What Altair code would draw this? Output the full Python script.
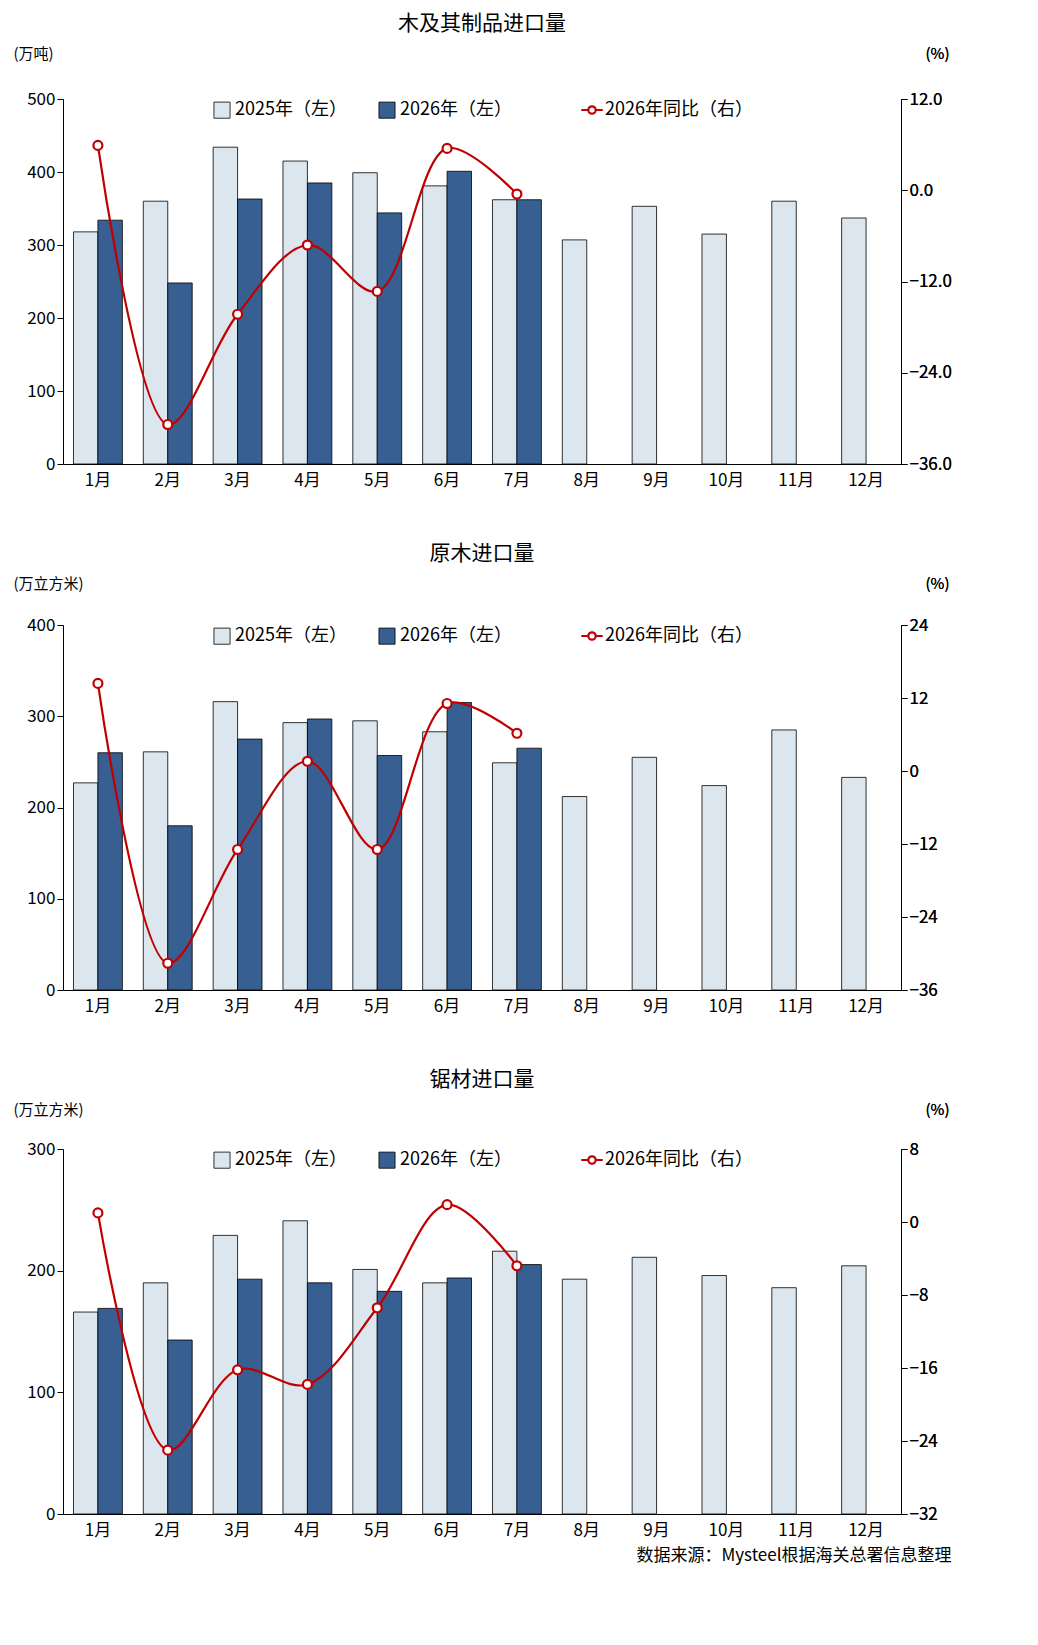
import pandas as pd
import altair as alt

months = ["1月", "2月", "3月", "4月", "5月", "6月", "7月", "8月", "9月", "10月", "11月", "12月"]
lbl_25 = "2025年（左）"
lbl_26 = "2026年（左）"
lbl_yoy = "2026年同比（右）"

# 木及其制品进口量 (万吨, %)
wood_25 = [318, 360, 434, 415, 399, 381, 362, 307, 353, 315, 360, 337]
wood_26 = [334, 248, 363, 385, 344, 401, 362]
wood_yoy = [5.9, -30.8, -16.3, -7.2, -13.3, 5.5, -0.5]

# 原木进口量 (万立方米, %)
log_25 = [227, 261, 316, 293, 295, 283, 249, 212, 255, 224, 285, 233]
log_26 = [260, 180, 275, 297, 257, 315, 265]
log_yoy = [14.4, -31.6, -12.9, 1.6, -12.9, 11.1, 6.2]

# 锯材进口量 (万立方米, %)
lumber_25 = [166, 190, 229, 241, 201, 190, 216, 193, 211, 196, 186, 204]
lumber_26 = [169, 143, 193, 190, 183, 194, 205]
lumber_yoy = [1.0, -25.0, -16.2, -17.8, -9.4, 1.9, -4.8]

FONT = "Noto Sans CJK SC"
LIGHT = "#dce6ee"
DARK = "#375f91"
RED = "#c00000"
line_symbol = ("M-1.6,0L-0.55,0 M0.55,0L1.6,0 "
               "M-0.55,0A0.55,0.55 0 1,0 0.55,0A0.55,0.55 0 1,0 -0.55,0Z")


def panel(title, unit, v25, v26, yoy, lmax, lstep, rmin, rmax, rstep, rfmt, unit_y):
    bars = pd.DataFrame(
        [{"month": m, "series": lbl_25, "value": v} for m, v in zip(months, v25)]
        + [{"month": m, "series": lbl_26, "value": v} for m, v in zip(months, v26)]
    )
    line = pd.DataFrame({"month": months[:len(yoy)], "yoy": yoy, "s": lbl_yoy})

    x = alt.X("month:N", sort=months, title=None,
              scale=alt.Scale(paddingInner=0.3, paddingOuter=0.15),
              axis=alt.Axis(labelAngle=0, ticks=False, labelFontSize=17,
                            labelPadding=8, domainColor="black", labelColor="black"))

    b = alt.Chart(bars).mark_bar(stroke="black", strokeWidth=0.8).encode(
        x=x,
        xOffset=alt.XOffset("series:N", sort=[lbl_25, lbl_26]),
        y=alt.Y("value:Q", title=unit,
                scale=alt.Scale(domain=[0, lmax], nice=False),
                axis=alt.Axis(values=list(range(0, lmax + 1, lstep)), grid=False,
                              tickSize=6, labelFontSize=17, domainColor="black",
                              tickColor="black", labelColor="black",
                              titleAngle=0, titleAlign="left", titleX=-50,
                              titleY=unit_y, titleFontSize=15, titleFontWeight="normal")),
        fill=alt.Fill("series:N",
                      scale=alt.Scale(domain=[lbl_25, lbl_26], range=[LIGHT, DARK]),
                      legend=alt.Legend(title=None, orient="none", legendX=150,
                                        legendY=2, direction="horizontal",
                                        symbolType="square", symbolSize=260,
                                        symbolStrokeColor="black", symbolStrokeWidth=0.8,
                                        labelFontSize=18, columnPadding=30)),
    )

    ticks = []
    t = rmin
    while t <= rmax + 1e-9:
        ticks.append(t)
        t += rstep
    base = alt.Chart(line).encode(
        x=x,
        y=alt.Y("yoy:Q", title="(%)",
                scale=alt.Scale(domain=[rmin, rmax], nice=False),
                axis=alt.Axis(orient="right", values=ticks, format=rfmt, grid=False,
                              tickSize=6, labelFontSize=17, domainColor="black",
                              tickColor="black", labelColor="black",
                              titleAngle=0, titleAlign="left", titleX=24,
                              titleY=unit_y, titleFontSize=15, titleFontWeight="normal")),
    )
    ln = base.mark_line(interpolate="catmull-rom", strokeWidth=2.2).encode(
        stroke=alt.Stroke("s:N", scale=alt.Scale(domain=[lbl_yoy], range=[RED]),
                          legend=alt.Legend(title=None, orient="none", legendX=520,
                                            legendY=2, symbolType=line_symbol,
                                            symbolSize=180, symbolFillColor="white",
                                            symbolStrokeWidth=2.2,
                                            labelFontSize=18)))
    pts = base.mark_point(filled=True, fill="white", stroke=RED, strokeWidth=2.2,
                          size=80, opacity=1)

    return alt.layer(b, ln, pts).resolve_scale(y="independent").properties(
        width=838, height=365,
        title=alt.TitleParams(title, fontSize=21, fontWeight="normal",
                              anchor="middle", offset=12, color="black"))


c1 = panel("木及其制品进口量", "(万吨)", wood_25, wood_26, wood_yoy,
           500, 100, -36, 12, 12, ".1f", -38)
c2 = panel("原木进口量", "(万立方米)", log_25, log_26, log_yoy,
           400, 100, -36, 24, 12, "d", -34)
c3 = panel("锯材进口量", "(万立方米)", lumber_25, lumber_26, lumber_yoy,
           300, 100, -32, 8, 8, "d", -32)

chart = alt.vconcat(c1, c2, c3, spacing=55).resolve_scale(
    fill="independent", stroke="independent"
).resolve_legend(fill="independent", stroke="independent").properties(
    title=alt.TitleParams("数据来源：Mysteel根据海关总署信息整理", orient="bottom",
                          anchor="end", fontSize=17, fontWeight="normal",
                          color="black", offset=10)
).configure(font=FONT).configure_view(strokeWidth=0).configure_axis(
    titleFont=FONT, labelFont=FONT
)

chart.save("out.html", embed_options={"renderer": "svg", "actions": False})
